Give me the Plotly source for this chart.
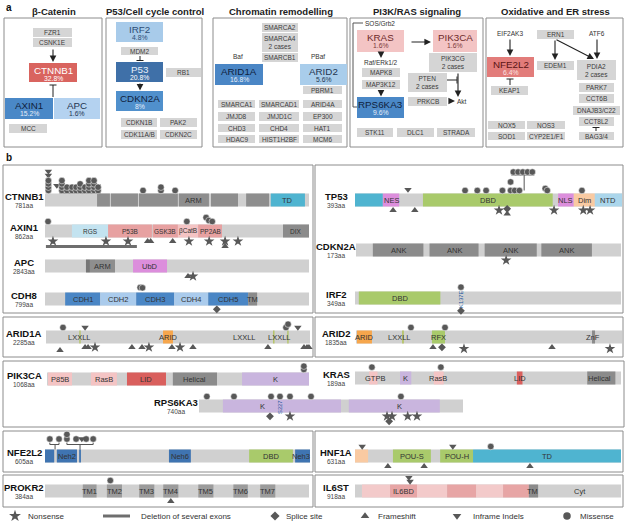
import plotly.graph_objects as go

W, H = 628, 524
FONT = 'Liberation Sans, Arial, Helvetica, sans-serif'

# ---------------- panel a : pathway data ----------------
PATHWAYS = ['β-Catenin', 'P53/Cell cycle control', 'Chromatin remodelling',
            'PI3K/RAS signaling', 'Oxidative and ER stress']
DRIVER_GENES = ['CTNNB1', 'AXIN1', 'APC', 'IRF2', 'P53', 'CDKN2A', 'ARID1A', 'ARID2',
                'KRAS', 'PIK3CA', 'RPS6KA3', 'NFE2L2']
DRIVER_FREQ = ['32.8%', '15.2%', '1.6%', '4.8%', '20.8%', '8%', '16.8%', '5.6%',
               '1.6%', '1.6%', '9.6%', '6.4%']
OTHER_GENES = ['FZR1', 'CSNK1E', 'MCC',
               'MDM2', 'RB1', 'CDKN1B', 'PAK2', 'CDK11A/B', 'CDKN2C',
               'SMARCA2', 'SMARCA4<br>2 cases', 'SMARCB1', 'PBRM1',
               'SMARCA1', 'SMARCAD1', 'ARID4A', 'JMJD8', 'JMJD1C', 'EP300',
               'CHD3', 'CHD4', 'HAT1', 'HDAC9', 'HIST1H2BF', 'MCM6',
               'MAPK8', 'MAP3K12', 'PIK3CG<br>2 cases', 'PTEN<br>2 cases', 'PRKCB',
               'STK11', 'DLC1', 'STRADA',
               'KEAP1', 'ERN1', 'EDEM1', 'PDIA2<br>2 cases', 'PARK7', 'CCT6B', 'DNAJB3/C22',
               'CCT8L2', 'BAG3/4', 'NOX5', 'NOS3', 'SOD1', 'CYP2E1/F1']
PLAIN_LABELS = ['Baf', 'PBaf', 'SOS/Grb2', 'Raf/ERk1/2', 'Akt', 'EIF2AK3', 'ATF6']

# ---------------- panel b : protein data (aa) ----------------
CTNNB1_LEN = 781
CTNNB1_DOMAINS = [(154, 192, 'arm', ''), (195, 275, 'arm', ''), (278, 393, 'arm', ''),
                  (396, 485, 'arm', 'ARM'), (491, 571, 'arm', ''), (595, 663, 'arm', ''),
                  (668, 769, 'teal', 'TD')]
CTNNB1_LABELS = []
CTNNB1_MUTS = [(10, 'mis', 'up', 0), (10, 'mis', 'up', 1), (10, 'mis', 'up', 2), (10, 'mis', 'up', 3),
               (10, 'indel', 'up', 4.6), (10, 'indel', 'up', 5.8), (35, 'indel', 'up', 1.5),
               (290, 'mis', 'up', 0), (343, 'mis', 'up', 0), (343, 'mis', 'up', 1), (385, 'mis', 'up', 0)]
CTNNB1_CLUSTER_AA = [50, 65, 80, 92, 104, 118, 130, 145, 157]
CTNNB1_CLUSTER_N = [4, 2, 2, 2, 3, 2, 4, 4, 2]

AXIN1_LEN = 862
AXIN1_DOMAINS = [(88, 206, 'rgs', 'RGS'), (206, 349, 'pink', 'P53B'), (352, 434, 'pink', 'GSK3B'),
                 (434, 500, 'lpink', 'βCatB'), (500, 578, 'pink', 'PP2AB'), (777, 862, 'dark', 'DIX')]
AXIN1_LABELS = []
AXIN1_MUTS = [(10, 'mis', 'up', 0), (463, 'mis', 'up', 0), (526, 'mis', 'up', 1.2), (535, 'mis', 'up', 0.3),
              (546, 'mis', 'up', 0),
              (26, 'stop', 'dn', 0), (199, 'stop', 'dn', 0), (271, 'stop', 'dn', 0), (335, 'fs', 'dn', 0),
              (345, 'fs', 'dn', 0), (417, 'fs', 'dn', 0), (470, 'stop', 'dn', 0), (536, 'stop', 'dn', 0),
              (588, 'stop', 'dn', 0), (588, 'fs', 'dn', 1), (630, 'stop', 'dn', 0)]
AXIN1_DELETION = [(3, 300)]

APC_LEN = 2843
APC_DOMAINS = [(441, 484, 'dark2', ''), (484, 754, 'arm', 'ARM'), (948, 1314, 'violet', 'UbD')]
APC_LABELS = []
APC_MUTS = [(1540, 'fs', 'dn', 0), (1594, 'stop', 'dn', 0)]

CDH8_LEN = 799
CDH8_DOMAINS = [(61, 167, 'blue', 'CDH1'), (167, 276, 'lblue', 'CDH2'), (276, 391, 'blue', 'CDH3'),
                (391, 494, 'lblue', 'CDH4'), (494, 615, 'blue', 'CDH5'), (615, 642, 'dark', 'TM')]
CDH8_LABELS = []
CDH8_MUTS = [(288, 'mis', 'up', 0.6), (295, 'mis', 'up', 0.5), (520, 'splice', 'dn', 0)]

ARID1A_LEN = 2285
ARID1A_DOMAINS = [(288, 300, 'olive', ''), (1013, 1099, 'orange', ''), (1965, 1978, 'olive', ''),
                  (2088, 2100, 'olive', '')]
ARID1A_LABELS = [(294, 'LXXLL'), (1056, 'ARID'), (1722, 'LXXLL'), (2025, 'LXXLL')]
ARID1A_MUTS = [(147, 'mis', 'up', 0), (338, 'indel', 'up', 0), (2077, 'mis', 'up', 0), (2095, 'mis', 'up', 1),
               (2180, 'indel', 'up', 0),
               (121, 'fs', 'dn', 0.6), (338, 'fs', 'dn', 0), (364, 'fs', 'dn', 0), (424, 'stop', 'dn', 0),
               (744, 'fs', 'dn', 0), (831, 'fs', 'dn', 0), (891, 'stop', 'dn', 0), (1090, 'fs', 'dn', 0),
               (1160, 'stop', 'dn', 0), (1272, 'fs', 'dn', 0), (1921, 'fs', 'dn', 0), (2233, 'fs', 'dn', 0),
               (2259, 'fs', 'dn', 0), (2276, 'fs', 'dn', 0)]

PIK3CA_LEN = 1068
PIK3CA_DOMAINS = [(4, 102, 'lpink', 'P85B'), (179, 285, 'lpink', 'RasB'), (326, 485, 'red', 'LID'),
                  (513, 693, 'dark', 'Helical'), (795, 1068, 'lav', 'K')]
PIK3CA_LABELS = []
PIK3CA_MUTS = [(1047, 'mis', 'up', 0), (1047, 'mis', 'up', 1)]

RPS6KA3_LEN = 740
RPS6KA3_DOMAINS = [(67, 398, 'lav', ''), (420, 675, 'lav', '')]
RPS6KA3_LABELS = [(179, 'K'), (563, 'K')]
RPS6KA3_MUTS = [(22, 'mis', 'up', 0), (98, 'mis', 'up', 0), (202, 'mis', 'up', 0), (227, 'mis', 'up', 0),
                (255, 'mis', 'up', 0), (314, 'mis', 'up', 0), (566, 'mis', 'up', 0),
                (199, 'splice', 'dn', 0), (255, 'stop', 'dn', 0), (527, 'stop', 'dn', 0), (541, 'stop', 'dn', 0),
                (585, 'stop', 'dn', 0), (611, 'stop', 'dn', 0), (533, 'splice', 'dn', 1)]
RPS6KA3_SITE = [(227, 'S227')]

NFE2L2_LEN = 605
NFE2L2_DOMAINS = [(0, 21, 'navy', ''), (27, 73, 'navy', 'Neh2'), (78, 82, 'navy', ''),
                  (283, 333, 'navy', 'Neh6'), (466, 566, 'green', 'DBD'), (571, 605, 'navy', '')]
NFE2L2_LABELS = [(585, 'Neh3')]
NFE2L2_MUTS = []
NFE2L2_CLUSTER_MUTS = [(11, 'mis', 0), (32, 'mis', 0), (50, 'mis', 0), (50, 'mis', 1.4), (71, 'mis', 0),
                       (84, 'indel', 0), (94, 'mis', 0), (110, 'mis', 0)]
NFE2L2_CLUSTER_SPANS = [(11, 32, 23), (50, 110, 80)]

PROKR2_LEN = 384
PROKR2_DOMAINS = [(55, 75, 'tm', 'TM1'), (90, 112, 'tm', 'TM2'), (137, 159, 'tm', 'TM3'),
                  (172, 194, 'tm', 'TM4'), (223, 245, 'tm', 'TM5'), (274, 295, 'tm', 'TM6'),
                  (313, 335, 'tm', 'TM7')]
PROKR2_LABELS = []
PROKR2_MUTS = [(95, 'mis', 'up', 0.3), (183, 'fs', 'dn', 0)]

TP53_LEN = 393
TP53_DOMAINS = [(0, 41, 'teal', ''), (41, 65, 'violet', 'NES'), (100, 291, 'green', 'DBD'),
                (299, 322, 'violet', 'NLS'), (322, 353, 'peach', 'Dim'), (353, 393, 'ntd', 'NTD')]
TP53_LABELS = []
TP53_MUTS = [(78, 'indel', 'up', 0.3), (162, 'mis', 'up', 0), (180, 'mis', 'up', 0), (193, 'mis', 'up', 0),
             (217, 'mis', 'up', 0), (229, 'mis', 'up', 0), (229, 'mis', 'up', 2.6), (235, 'mis', 'up', 0),
             (242, 'mis', 'up', 0), (280, 'mis', 'up', 0.6), (283, 'mis', 'up', 0), (334, 'mis', 'up', 0),
             (56, 'fs', 'dn', 0), (88, 'fs', 'dn', 0), (212, 'stop', 'dn', 0), (224, 'splice', 'dn', -0.3),
             (224, 'fs', 'dn', 0.7), (293, 'stop', 'dn', 0), (336, 'stop', 'dn', 0), (346, 'stop', 'dn', 0)]
TP53_CLUSTER_AA = [233, 240, 247, 254, 261]
TP53_CLUSTER_ANCHOR = 249

CDKN2A_LEN = 173
CDKN2A_DOMAINS = [(11, 44, 'dark', 'ANK'), (48, 80, 'dark', 'ANK'), (84, 118, 'dark', 'ANK'),
                  (121, 154, 'dark', 'ANK')]
CDKN2A_LABELS = []
CDKN2A_MUTS = [(98, 'stop', 'dn', 0)]

IRF2_LEN = 349
IRF2_DOMAINS = [(5, 112, 'green', 'DBD')]
IRF2_LABELS = []
IRF2_MUTS = [(139, 'mis', 'up', 0.4), (139, 'splice', 'dn', 0.5)]
IRF2_SITE = [(139, 'K137E')]

ARID2_LEN = 1835
ARID2_DOMAINS = [(7, 110, 'orange', 'ARID'), (318, 330, 'olive', ''), (524, 614, 'green', 'RFX'),
                 (1628, 1649, 'dark', '')]
ARID2_LABELS = [(303, 'LXXLL'), (1635, 'ZnF')]
ARID2_MUTS = [(379, 'mis', 'up', 0), (614, 'mis', 'up', 0), (531, 'fs', 'dn', 0), (593, 'splice', 'dn', 0),
              (745, 'stop', 'dn', 0.3), (1352, 'fs', 'dn', 0), (1752, 'stop', 'dn', 0.3)]

KRAS_LEN = 189
KRAS_DOMAINS = [(10, 16, 'lpink', ''), (32, 40, 'lav', ''), (56, 63, 'lpink', ''), (115, 119, 'red', ''),
                (165, 185, 'dark', '')]
KRAS_LABELS = [(14, 'GTPB'), (36, 'K'), (59, 'RasB'), (117, 'LID'), (174, 'Helical')]
KRAS_MUTS = [(12, 'mis', 'up', 0.4), (61, 'mis', 'up', 0.4)]

HNF1A_LEN = 631
HNF1A_DOMAINS = [(0, 31, 'peach', ''), (90, 180, 'green', 'POU-S'), (202, 280, 'green', 'POU-H'),
                 (280, 631, 'teal', 'TD')]
HNF1A_LABELS = []
HNF1A_MUTS = [(17, 'indel', 'up', 0), (232, 'indel', 'up', 0), (322, 'mis', 'up', 0),
              (78, 'fs', 'dn', 0), (164, 'fs', 'dn', 0), (415, 'fs', 'dn', 0)]

IL6ST_LEN = 918
IL6ST_DOMAINS = [(24, 121, 'lpink2', ''), (121, 214, 'mpink', ''), (214, 318, 'lpink2', ''),
                 (318, 418, 'mpink', ''), (418, 511, 'lpink2', ''), (511, 600, 'mpink', ''),
                 (600, 632, 'dark', '')]
IL6ST_LABELS = [(166, 'IL6BD'), (614, 'TM'), (776, 'Cyt')]
IL6ST_MUTS = [(186, 'indel', 'up', 1.2), (190, 'indel', 'up', 0)]

LEGEND_LABELS = ['Nonsense', 'Deletion of several exons', 'Splice site', 'Frameshift',
                 'Inframe Indels', 'Missense']
LEGEND_KINDS = ['stop', 'deletion', 'splice', 'fs', 'indel', 'mis']

# ---------------- styles ----------------
COL = {'arm': '#8e8e8e', 'dark': '#8b8b8b', 'dark2': '#767676', 'tm': '#9b9b9b', 'teal': '#4fb4d0',
       'rgs': '#c3e3f0', 'pink': '#e7a1a1', 'lpink': '#f4c4c4', 'lpink2': '#f3caca', 'mpink': '#e7a5a5',
       'violet': '#dc8edc', 'blue': '#4a86c5', 'lblue': '#aacbec', 'green': '#a9ca6b',
       'orange': '#f6a64c', 'red': '#d95f5d', 'lav': '#c9b5de', 'peach': '#f9caa2', 'ntd': '#abd6eb',
       'navy': '#3f74b1', 'olive': '#b5c468'}
BAR = '#d0d0d0'
MK = '#585858'
KIND_SYMBOL = {'stop': 'star', 'splice': 'diamond', 'fs': 'triangle-up', 'indel': 'triangle-down',
               'mis': 'circle'}
KIND_SIZE = {'stop': 8, 'splice': 6, 'fs': 6.5, 'indel': 6.5, 'mis': 6.5}
HB = 6.5

shapes, annots = [], []
fig = go.Figure()


def rect(x0, y0, x1, y1, fill, lc=None, lw=0, xref='x'):
    shapes.append(dict(type='rect', xref=xref, yref='y', x0=x0, x1=x1, y0=y0, y1=y1, fillcolor=fill,
                       line=dict(color=lc or 'rgba(0,0,0,0)', width=lw), layer='below'))


def line(x0, y0, x1, y1, color='#222', w=1.0, xref='x'):
    shapes.append(dict(type='line', xref=xref, yref='y', x0=x0, x1=x1, y0=y0, y1=y1,
                       line=dict(color=color, width=w), layer='below'))


def txt(x, y, s, size=8.0, color='#333', bold=False, xanchor='center', xref='x', angle=0):
    annots.append(dict(x=x, y=y, xref=xref, yref='y', text=f'<b>{s}</b>' if bold else s, showarrow=False,
                       font=dict(family=FONT, size=size, color=color), xanchor=xanchor,
                       yanchor='middle', textangle=angle, borderpad=0))


def arrow(x0, y0, x1, y1):
    annots.append(dict(x=x1, y=y1, ax=x0, ay=y0, xref='x', yref='y', axref='x', ayref='y', text='',
                       showarrow=True, arrowhead=2, arrowsize=1.2, arrowwidth=1.1, arrowcolor='#222',
                       standoff=0, startstandoff=0))


def tbar(x0, y0, x1, y1, half=3.5):
    line(x0, y0, x1, y1, w=1.0)
    if x0 == x1:
        line(x1 - half, y1, x1 + half, y1, w=1.0)
    else:
        line(x1, y1 - half, x1, y1 + half, w=1.0)


# ---------------- panel a drawing ----------------
txt(5, 7, 'a', 10, '#111', True, 'left')
PANEL_X = [(4, 102), (106, 202), (213, 347), (350, 483), (486, 623)]
HEAD_X = [54, 155, 281, 417, 555]
for (x0, x1), hx, title in zip(PANEL_X, HEAD_X, PATHWAYS):
    rect(x0, 18, x1, 147, 'rgba(0,0,0,0)', '#8c8c8c', 1)
    txt(hx, 11, title, 9.5, '#222', True)

DRIVER_POS = [(29, 63, 77, 82), (5, 98, 53, 119), (54, 98, 100, 119), (116, 22, 163, 42),
              (116, 62, 163, 82), (116, 91, 163, 111), (215, 64, 263, 85), (300, 64, 347, 85),
              (357, 30, 404, 52), (433, 30, 477, 52), (357, 97, 404, 118), (487, 57, 534, 77)]
DRIVER_FILL = ['#d9645f', '#4a88c7', '#b4d2f0', '#a8cbea', '#3f70a8', '#5090cc', '#4a86c5', '#a9cdeb',
               '#f3c4c4', '#f3c4c4', '#4a88c7', '#e27c7a']
DRIVER_TXT = [('#ffffff', '#ffffff'), ('#10223d', '#e6eef8'), ('#1f3550', '#1f3550'), ('#2d4d75', '#2d4d75'),
              ('#e6eef8', '#ffffff'), ('#10223d', '#e6eef8'), ('#10223d', '#e6eef8'), ('#1f3550', '#1f3550'),
              ('#6e2a2a', '#7a3a3a'), ('#6e2a2a', '#7a3a3a'), ('#10223d', '#e6eef8'), ('#5a1414', '#fbe3e3')]
for g, f, (x0, y0, x1, y1), fill, (c1, c2) in zip(DRIVER_GENES, DRIVER_FREQ, DRIVER_POS, DRIVER_FILL, DRIVER_TXT):
    rect(x0, y0, x1, y1, fill)
    cx = (x0 + x1) / 2
    txt(cx, y0 + 7.2, g, 9.8, c1)
    txt(cx, y0 + 15.8, f, 6.8, c2)

OTHER_POS = [(33, 28, 72, 37), (33, 38, 72, 47), (9, 124, 47, 133),
             (121, 47, 158, 55), (166, 68, 201, 77), (121, 118, 157, 127), (160, 118, 197, 127),
             (121, 130, 157, 139), (160, 130, 197, 139),
             (262, 23, 298, 32), (262, 33, 298, 52), (262, 53, 298, 62), (303, 86, 342, 94),
             (218, 100, 255, 108), (259, 100, 299, 108), (303, 100, 342, 108),
             (218, 112, 255, 121), (259, 112, 299, 121), (303, 112, 342, 121),
             (218, 124, 255, 132), (259, 124, 299, 132), (303, 124, 342, 132),
             (218, 135, 255, 143), (259, 135, 299, 143), (303, 135, 342, 143),
             (362, 68, 400, 77), (362, 80, 400, 89), (429, 53, 477, 72), (408, 73, 447, 92),
             (408, 97, 447, 106), (357, 128, 393, 137), (397, 128, 434, 137), (437, 128, 475, 137),
             (491, 86, 528, 95), (537, 30, 574, 39), (537, 61, 574, 70), (577, 60, 616, 80),
             (579, 83, 614, 92), (579, 94, 614, 103), (573, 106, 620, 115), (579, 117, 614, 126),
             (579, 132, 614, 140), (488, 121, 525, 129), (527, 121, 565, 129), (488, 132, 525, 140),
             (527, 132, 565, 140)]
for g, (x0, y0, x1, y1) in zip(OTHER_GENES, OTHER_POS):
    rect(x0, y0, x1, y1, '#d5d5d5')
    txt((x0 + x1) / 2, (y0 + y1) / 2 + 0.3, g, 6.5, '#3c3c3c')

PLAIN_POS = [(238, 56, 'center'), (318, 56, 'center'), (364, 23, 'left'), (381, 62, 'center'),
             (456, 101, 'left'), (510, 33, 'center'), (597, 33, 'center')]
for s, (x, y, a) in zip(PLAIN_LABELS, PLAIN_POS):
    txt(x, y, s, 6.5, '#333', False, a)

arrow(53, 48, 53, 62)
tbar(53, 97, 53, 85)
tbar(140, 56, 140, 60.5)
arrow(140, 82, 140, 90.5)
arrow(410, 42, 431, 42)
arrow(381, 52, 381, 58)
arrow(381, 89, 381, 96.5)
line(363, 23, 353, 23, '#555')
line(353, 23, 353, 107, '#555')
line(353, 107, 357, 107, '#555')
tbar(447, 80, 457, 80)
arrow(458, 72, 458, 97)
arrow(448, 101, 455, 101)
arrow(510, 38, 510, 56)
tbar(510, 85, 510, 79)
arrow(555, 39, 555, 60)
arrow(555, 39, 594, 59)
arrow(597, 38, 597, 59)
tbar(596, 131, 596, 127.5)

# ---------------- panel b drawing ----------------
txt(5, 157, 'b', 10, '#111', True, 'left')
for (x0, y0, x1, y1) in [(3, 165, 313, 313), (3, 317, 313, 357), (3, 361, 624, 427), (3, 431, 313, 472),
                         (3, 475, 313, 507), (315, 165, 623, 313), (315, 317, 623, 357),
                         (315, 431, 623, 472), (315, 475, 623, 507)]:
    rect(x0, y0, x1, y1, 'rgba(0,0,0,0)', '#8c8c8c', 1)

TRACK_LAYOUT = [
    ('CTNNB1', CTNNB1_LEN, CTNNB1_DOMAINS, CTNNB1_LABELS, CTNNB1_MUTS, 45, 309, 200, 24),
    ('AXIN1', AXIN1_LEN, AXIN1_DOMAINS, AXIN1_LABELS, AXIN1_MUTS, 45, 309, 231, 24),
    ('APC', APC_LEN, APC_DOMAINS, APC_LABELS, APC_MUTS, 45, 309, 266, 24),
    ('CDH8', CDH8_LEN, CDH8_DOMAINS, CDH8_LABELS, CDH8_MUTS, 45, 309, 299, 24),
    ('ARID1A', ARID1A_LEN, ARID1A_DOMAINS, ARID1A_LABELS, ARID1A_MUTS, 46, 310, 337, 24),
    ('PIK3CA', PIK3CA_LEN, PIK3CA_DOMAINS, PIK3CA_LABELS, PIK3CA_MUTS, 47, 309, 379, 24),
    ('RPS6KA3', RPS6KA3_LEN, RPS6KA3_DOMAINS, RPS6KA3_LABELS, RPS6KA3_MUTS, 199, 463, 406, 176),
    ('NFE2L2', NFE2L2_LEN, NFE2L2_DOMAINS, NFE2L2_LABELS, NFE2L2_MUTS, 45, 310, 456, 24),
    ('PROKR2', PROKR2_LEN, PROKR2_DOMAINS, PROKR2_LABELS, PROKR2_MUTS, 45, 309, 491, 24),
    ('TP53', TP53_LEN, TP53_DOMAINS, TP53_LABELS, TP53_MUTS, 355, 622, 200, 336),
    ('CDKN2A', CDKN2A_LEN, CDKN2A_DOMAINS, CDKN2A_LABELS, CDKN2A_MUTS, 356, 621, 250, 336),
    ('IRF2', IRF2_LEN, IRF2_DOMAINS, IRF2_LABELS, IRF2_MUTS, 355, 621, 298, 336),
    ('ARID2', ARID2_LEN, ARID2_DOMAINS, ARID2_LABELS, ARID2_MUTS, 356, 622, 337, 336),
    ('KRAS', KRAS_LEN, KRAS_DOMAINS, KRAS_LABELS, KRAS_MUTS, 355, 621, 378, 336),
    ('HNF1A', HNF1A_LEN, HNF1A_DOMAINS, HNF1A_LABELS, HNF1A_MUTS, 355, 621, 456, 336),
    ('IL6ST', IL6ST_LEN, IL6ST_DOMAINS, IL6ST_LABELS, IL6ST_MUTS, 355, 621, 491, 336),
]

layout_axes = {}
track_axis = {}


def ypos(yc, side, level):
    if side == 'up':
        return yc - HB - 3 - 3.3 * level
    return yc + HB + 3.8 + 5 * level


def add_markers(ax, xs, ys, kind):
    fig.add_trace(go.Scatter(x=xs, y=ys, xaxis=ax, yaxis='y', mode='markers', cliponaxis=False,
                             hoverinfo='skip', showlegend=False,
                             marker=dict(symbol=KIND_SYMBOL[kind], size=KIND_SIZE[kind], color=MK,
                                         line=dict(color='white', width=0.5 if kind == 'mis' else 0))))


for k, (name, length, doms, labels, muts, x0, x1, yc, nx) in enumerate(TRACK_LAYOUT, start=2):
    ax = f'x{k}'
    track_axis[name] = (ax, yc)
    layout_axes[f'xaxis{k}'] = dict(domain=[x0 / W, x1 / W], range=[0, length], visible=False,
                                    anchor='y', fixedrange=True)
    fig.add_trace(go.Scatter(x=[0], y=[yc], xaxis=ax, yaxis='y', mode='markers', hoverinfo='skip',
                             showlegend=False, marker=dict(size=1, opacity=0)))
    rect(0, yc - HB, length, yc + HB, BAR, xref=ax)
    for s, e, c, lab in doms:
        rect(s, yc - HB, e, yc + HB, COL[c], xref=ax)
        if lab:
            sz = 6.5 if name == 'AXIN1' else 7.5
            txt((s + e) / 2, yc + 0.3, lab, sz, '#333', xref=ax)
    for aa, lab in labels:
        txt(aa, yc + 0.3, lab, 7.5, '#333', xref=ax)
    txt(nx, yc - 4, name, 9.5, '#111', True)
    txt(nx, yc + 5, f'{length}aa', 6.5, '#444')
    for kind in KIND_SYMBOL:
        xs = [m[0] for m in muts if m[1] == kind]
        ys = [ypos(yc, m[2], m[3]) for m in muts if m[1] == kind]
        if xs:
            add_markers(ax, xs, ys, kind)

# AXIN1 exon deletion
ax, yc = track_axis['AXIN1']
for s, e in AXIN1_DELETION:
    line(s, yc + HB + 9, e, yc + HB + 9, '#6e6e6e', 3, ax)

# CTNNB1 bracket cluster
ax, yc = track_axis['CTNNB1']
top = yc - HB
xs, ys = [], []
for aa, n in zip(CTNNB1_CLUSTER_AA, CTNNB1_CLUSTER_N):
    for lv in range(n):
        xs.append(aa)
        ys.append(ypos(yc, 'up', lv))
lo, hi = CTNNB1_CLUSTER_AA[0] - 7, CTNNB1_CLUSTER_AA[-1] + 7
line(lo, top - 9, lo, top - 0.5, '#555', 1, ax)
line(lo, top - 0.5, hi, top - 0.5, '#555', 1, ax)
line(hi, top - 9, hi, top - 0.5, '#555', 1, ax)
add_markers(ax, xs, ys, 'mis')

# TP53 hotspot lollipop
ax, yc = track_axis['TP53']
top = yc - HB
cy = top - 21.5
line(TP53_CLUSTER_AA[0] - 3, cy + 3, TP53_CLUSTER_AA[-1] + 3, cy + 3, '#555', 1, ax)
line(TP53_CLUSTER_ANCHOR, cy + 3, TP53_CLUSTER_ANCHOR, top - 3, '#555', 1, ax)
add_markers(ax, TP53_CLUSTER_AA, [cy] * len(TP53_CLUSTER_AA), 'mis')

# NFE2L2 bracketed cluster
ax, yc = track_axis['NFE2L2']
top = yc - HB
cy = top - 10.5
for s, e, anc in NFE2L2_CLUSTER_SPANS:
    line(s, cy + 3.5, s, cy + 5.5, '#555', 1, ax)
    line(e, cy + 3.5, e, cy + 5.5, '#555', 1, ax)
    line(s, cy + 5.5, e, cy + 5.5, '#555', 1, ax)
    line(anc, cy + 5.5, anc, top, '#555', 1, ax)
for kind in ['mis', 'indel']:
    sel = [m for m in NFE2L2_CLUSTER_MUTS if m[1] == kind]
    add_markers(ax, [m[0] for m in sel], [cy - 3.3 * m[2] for m in sel], kind)

# site labels
for gname, sites in [('RPS6KA3', RPS6KA3_SITE), ('IRF2', IRF2_SITE)]:
    ax, yc = track_axis[gname]
    for aa, lab in sites:
        txt(aa, yc + 1, lab, 5.8, '#24569c', False, 'center', ax, -90)

# legend
LEG_X = [15, 116, 275, 365, 457, 567]
LEG_TX = [27, 140, 285, 377, 472, 579]
ly = 516
for kind, lab, lx, tx in zip(LEGEND_KINDS, LEGEND_LABELS, LEG_X, LEG_TX):
    if kind == 'deletion':
        line(lx - 13, ly, lx + 14, ly, '#6e6e6e', 3)
    else:
        fig.add_trace(go.Scatter(x=[lx], y=[ly], mode='markers', hoverinfo='skip', showlegend=False,
                                 cliponaxis=False,
                                 marker=dict(symbol=KIND_SYMBOL[kind], size=KIND_SIZE[kind] + 1, color=MK)))
    txt(tx, ly, lab, 8, '#333', False, 'left')

fig.update_layout(
    width=W, height=H, margin=dict(l=0, r=0, t=0, b=0),
    paper_bgcolor='white', plot_bgcolor='rgba(0,0,0,0)',
    xaxis=dict(domain=[0, 1], range=[0, W], visible=False, fixedrange=True),
    yaxis=dict(domain=[0, 1], range=[H, 0], visible=False, fixedrange=True),
    shapes=shapes, annotations=annots, showlegend=False,
    font=dict(family=FONT),
    **layout_axes,
)
fig.write_html('out.html', config={'displayModeBar': False},
               post_script="document.body.style.margin='0px';document.body.style.overflow='hidden';")
